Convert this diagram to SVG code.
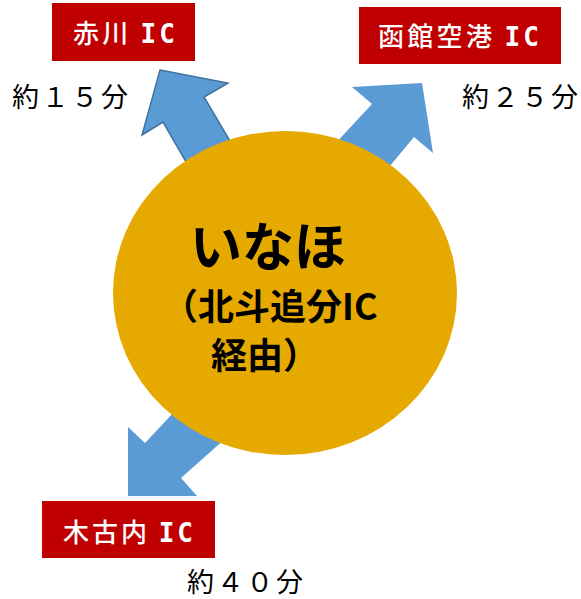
<svg xmlns="http://www.w3.org/2000/svg" width="581" height="599" viewBox="0 0 581 599">
<style>
.box{fill:#C00000}
.lbl{font-family:"Noto Sans CJK JP","Noto Sans",sans-serif;font-size:26px;font-weight:500;fill:#FFFFFF}
.mono{font-family:"DejaVu Sans Mono","Liberation Mono",monospace;font-weight:bold}
.time{font-family:"Noto Sans CJK JP","Noto Sans",sans-serif;font-size:27px;fill:#000000}
.arrow{fill:#5B9BD5}
.main{font-family:"Noto Sans CJK JP","Noto Sans",sans-serif;font-weight:bold;fill:#000000}
</style>
<rect width="581" height="599" fill="#FFFFFF"/>
<g id="connectors">
<polygon class="arrow" stroke="#41719C" stroke-width="1.5" points="160,70 228,83 204,97 250,175 207,198 163,122 142,135"/>
<polygon class="arrow" points="422,83 433,153 414,137 370,190 320,160 372,104 352,87"/>
<polygon class="arrow" points="128,496 128,427 145,443 190,395 235,430 181,478 197,496"/>
</g>
<g id="inaho">
<ellipse cx="285" cy="293" rx="172" ry="162" fill="#E6A900"/>
<text class="main" x="190" y="266" font-size="52">いなほ</text>
<text class="main" x="162" y="320" font-size="36">（北斗追分IC</text>
<text class="main" x="211" y="369" font-size="36">経由）</text>
</g>
<g id="akagawa">
<rect class="box" x="52" y="3" width="143" height="58"/>
<text class="lbl" x="73" y="43" textLength="102">赤川 <tspan class="mono">IC</tspan></text>
<text class="time" x="12" y="107" textLength="116">約１５分</text>
</g>
<g id="hakodate">
<rect class="box" x="359" y="7" width="202" height="57"/>
<text class="lbl" x="378" y="46" textLength="161">函館空港 <tspan class="mono">IC</tspan></text>
<text class="time" x="462" y="107" textLength="116">約２５分</text>
</g>
<g id="kikonai">
<rect class="box" x="42" y="501" width="173" height="57"/>
<text class="lbl" x="63" y="542" textLength="130">木古内 <tspan class="mono">IC</tspan></text>
<text class="time" x="187" y="592" textLength="116">約４０分</text>
</g>
</svg>
